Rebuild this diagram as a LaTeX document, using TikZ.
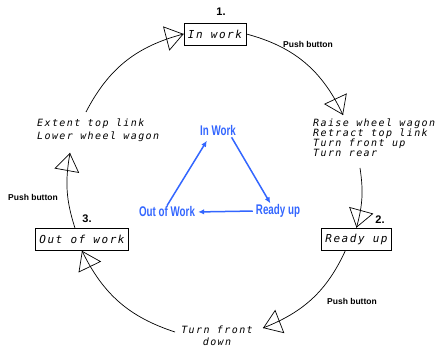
\documentclass[tikz,border=0pt]{standalone}
\usepackage{fontspec}
\usepackage{tikz}
\usetikzlibrary{arrows.meta, decorations.markings}
\setmainfont{Liberation Sans}
\newfontfamily\cadfont{DejaVu Sans Mono}[LetterSpace=14]
\newfontfamily\narrowfont{Liberation Sans}[FakeStretch=0.7]
\definecolor{flowblue}{RGB}{51,102,255}

\tikzset{
  state/.style={draw, rectangle, line width=0.7pt, inner xsep=4pt, inner ysep=0pt,
    minimum height=22pt, font=\cadfont\itshape\fontsize{11}{13}\selectfont},
  action/.style={inner sep=0pt, font=\cadfont\itshape\fontsize{10}{10}\selectfont},
  push/.style={inner sep=0pt, font=\bfseries\fontsize{8.5}{10}\selectfont},
  num/.style={inner sep=0pt, font=\bfseries\fontsize{11}{13}\selectfont},
  phase/.style={inner sep=1pt, text=flowblue, font=\narrowfont\bfseries\fontsize{14}{16}\selectfont},
  % open head laid over the line, the line runs on to the tip
  loopline/.style={line width=0.7pt, postaction={decorate, decoration={markings,
    mark=at position 1 with {\arrow[line width=0.7pt]{Triangle[open, length=18pt, width=25pt]}}}}},
  phasearrow/.style={draw=flowblue, line width=1.5pt, -{Latex[length=6pt, width=5.5pt]}},
}

\begin{document}
\begin{tikzpicture}[x=1pt, y=1pt]
\useasboundingbox (0,0) rectangle (439,347);

% states
\node[state](S1) at (215,313) {In work};
\node[state](S2) at (356.5,108) {Ready up};
\node[state](S3) at (82,107.5) {Out of work};
\node[num](N1) at (221,335) {1.};
\node[num](N2) at (380,127) {2.};
\node[num](N3) at (87,128) {3.};

% actions between the states
\node[action, align=left, anchor=north west](A1) at (313,228) {Raise wheel wagon\\Retract top link\\Turn front up\\Turn rear};
\node[action, align=center, anchor=north](A3) at (217,21) {Turn front\\[1.5pt]down};
\node[action, align=left, anchor=north west](A2) at (37,228) {Extent top link\\[2.5pt]Lower wheel wagon};

\node[push](P1) at (308,303) {Push button};
\node[push](P2) at (352,46) {Push button};
\node[push](P3) at (33,150) {Push button};

% where the loop meets the action texts
\coordinate (A1_in) at (343,232);
\coordinate (A1_out) at (360,179);
\coordinate (A3_in) at (263,19);
\coordinate (A3_out) at (175,15);
\coordinate (A2_in) at (70,194);
\coordinate (A2_out) at (86,235);

\draw[loopline](S1.east) to[bend left=25] (A1_in);
\draw[loopline](A1_out) to[bend left=12] (S2.north);
\draw[loopline]([xshift=-11pt]S2.south) to[bend left=22] (A3_in);
\draw[loopline](A3_out) to[bend left=23] (S3.south);
\draw[loopline]([xshift=-7pt]S3.north) to[bend left=14] (A2_in);
\draw[loopline](A2_out) to[bend left=24] (S1.west);

% phase triangle
\node[phase](B1) at (218,216) {In Work};
\node[phase](B2) at (278,136) {Ready up};
\node[phase](B3) at (167,135) {Out of Work};
\draw[phasearrow](B1.-25) to (B2.135);
\draw[phasearrow, shorten <=2pt, shorten >=2pt](B2.west) to (B3.east);
\draw[phasearrow, shorten >=4pt](B3.north) to (B1.215);
\end{tikzpicture}
\end{document}
